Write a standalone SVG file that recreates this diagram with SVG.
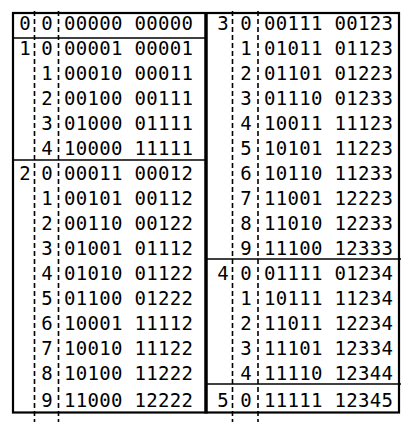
<svg xmlns="http://www.w3.org/2000/svg" width="412" height="427" viewBox="0 0 412 427">
<style>
text{font-family:"DejaVu Sans Mono","Liberation Mono",monospace;font-size:19px;fill:#000}
.n{text-anchor:middle}
.frame{stroke:#000;stroke-width:2.2;fill:none}
.sep{stroke:#000;stroke-width:1.6;fill:none}
.dash{stroke:#000;stroke-width:1.6;stroke-dasharray:5 3;fill:none}
</style>
<rect width="412" height="427" fill="#fff"/>
<g id="connectors">
<line class="dash" x1="34.5" y1="11" x2="34.5" y2="422"/>
<line class="dash" x1="58.5" y1="11" x2="58.5" y2="422"/>
<line class="dash" x1="232.5" y1="11" x2="232.5" y2="422"/>
<line class="dash" x1="258" y1="11" x2="258" y2="422"/>
<line class="sep" x1="13" y1="38" x2="205" y2="38"/>
<line class="sep" x1="13" y1="160" x2="205" y2="160"/>
<line class="sep" x1="207" y1="259" x2="401" y2="259"/>
<line class="sep" x1="207" y1="384" x2="401" y2="384"/>
<rect class="frame" x="13" y="13" width="386" height="399.5"/>
<line x1="206" y1="12" x2="206" y2="413.5" stroke="#000" stroke-width="3.5"/>
</g>
<g id="group0">
<text class="n" x="25" y="30">0</text>
<text class="n" x="47" y="30">0</text>
<text x="64" y="30" textLength="129" lengthAdjust="spacing">00000 00000</text>
</g>
<g id="group1">
<text class="n" x="25" y="55">1</text>
<text class="n" x="47" y="55">0</text><text x="64" y="55" textLength="129" lengthAdjust="spacing">00001 00001</text>
<text class="n" x="47" y="80">1</text><text x="64" y="80" textLength="129" lengthAdjust="spacing">00010 00011</text>
<text class="n" x="47" y="105">2</text><text x="64" y="105" textLength="129" lengthAdjust="spacing">00100 00111</text>
<text class="n" x="47" y="130">3</text><text x="64" y="130" textLength="129" lengthAdjust="spacing">01000 01111</text>
<text class="n" x="47" y="155">4</text><text x="64" y="155" textLength="129" lengthAdjust="spacing">10000 11111</text>
</g>
<g id="group2">
<text class="n" x="25" y="180">2</text>
<text class="n" x="47" y="180">0</text><text x="64" y="180" textLength="129" lengthAdjust="spacing">00011 00012</text>
<text class="n" x="47" y="205">1</text><text x="64" y="205" textLength="129" lengthAdjust="spacing">00101 00112</text>
<text class="n" x="47" y="230">2</text><text x="64" y="230" textLength="129" lengthAdjust="spacing">00110 00122</text>
<text class="n" x="47" y="255">3</text><text x="64" y="255" textLength="129" lengthAdjust="spacing">01001 01112</text>
<text class="n" x="47" y="280">4</text><text x="64" y="280" textLength="129" lengthAdjust="spacing">01010 01122</text>
<text class="n" x="47" y="305">5</text><text x="64" y="305" textLength="129" lengthAdjust="spacing">01100 01222</text>
<text class="n" x="47" y="330">6</text><text x="64" y="330" textLength="129" lengthAdjust="spacing">10001 11112</text>
<text class="n" x="47" y="355">7</text><text x="64" y="355" textLength="129" lengthAdjust="spacing">10010 11122</text>
<text class="n" x="47" y="380">8</text><text x="64" y="380" textLength="129" lengthAdjust="spacing">10100 11222</text>
<text class="n" x="47" y="407">9</text><text x="64" y="407" textLength="129" lengthAdjust="spacing">11000 12222</text>
</g>
<g id="group3">
<text class="n" x="223" y="30">3</text>
<text class="n" x="246" y="30">0</text><text x="264" y="30" textLength="129" lengthAdjust="spacing">00111 00123</text>
<text class="n" x="246" y="55">1</text><text x="264" y="55" textLength="129" lengthAdjust="spacing">01011 01123</text>
<text class="n" x="246" y="80">2</text><text x="264" y="80" textLength="129" lengthAdjust="spacing">01101 01223</text>
<text class="n" x="246" y="105">3</text><text x="264" y="105" textLength="129" lengthAdjust="spacing">01110 01233</text>
<text class="n" x="246" y="130">4</text><text x="264" y="130" textLength="129" lengthAdjust="spacing">10011 11123</text>
<text class="n" x="246" y="155">5</text><text x="264" y="155" textLength="129" lengthAdjust="spacing">10101 11223</text>
<text class="n" x="246" y="180">6</text><text x="264" y="180" textLength="129" lengthAdjust="spacing">10110 11233</text>
<text class="n" x="246" y="205">7</text><text x="264" y="205" textLength="129" lengthAdjust="spacing">11001 12223</text>
<text class="n" x="246" y="230">8</text><text x="264" y="230" textLength="129" lengthAdjust="spacing">11010 12233</text>
<text class="n" x="246" y="255">9</text><text x="264" y="255" textLength="129" lengthAdjust="spacing">11100 12333</text>
</g>
<g id="group4">
<text class="n" x="223" y="280">4</text>
<text class="n" x="246" y="280">0</text><text x="264" y="280" textLength="129" lengthAdjust="spacing">01111 01234</text>
<text class="n" x="246" y="305">1</text><text x="264" y="305" textLength="129" lengthAdjust="spacing">10111 11234</text>
<text class="n" x="246" y="330">2</text><text x="264" y="330" textLength="129" lengthAdjust="spacing">11011 12234</text>
<text class="n" x="246" y="355">3</text><text x="264" y="355" textLength="129" lengthAdjust="spacing">11101 12334</text>
<text class="n" x="246" y="380">4</text><text x="264" y="380" textLength="129" lengthAdjust="spacing">11110 12344</text>
</g>
<g id="group5">
<text class="n" x="223" y="407">5</text>
<text class="n" x="246" y="407">0</text><text x="264" y="407" textLength="129" lengthAdjust="spacing">11111 12345</text>
</g>
</svg>
